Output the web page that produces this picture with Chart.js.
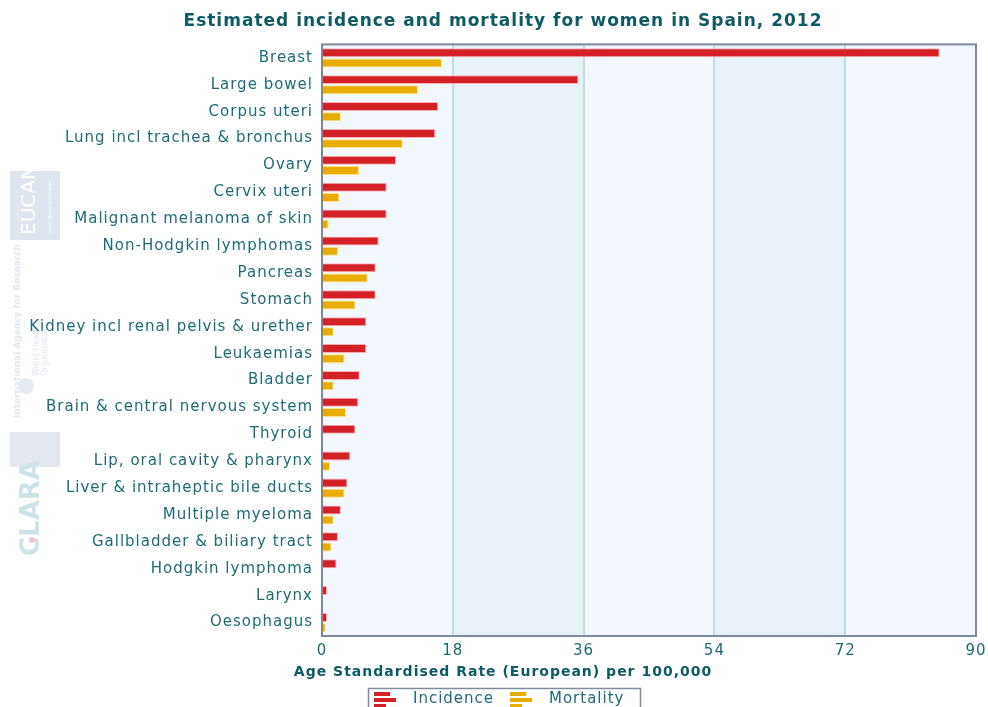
<!DOCTYPE html>
<html><head><meta charset="utf-8">
<script src="https://cdn.jsdelivr.net/npm/chart.js@4"></script>
<style>html,body{margin:0;padding:0;background:#fff}</style>
</head><body>
<canvas id="c" width="988" height="707"></canvas>
<script>
const categories = ["Breast","Large bowel","Corpus uteri","Lung incl trachea & bronchus","Ovary","Cervix uteri","Malignant melanoma of skin","Non-Hodgkin lymphomas","Pancreas","Stomach","Kidney incl renal pelvis & urether","Leukaemias","Bladder","Brain & central nervous system","Thyroid","Lip, oral cavity & pharynx","Liver & intraheptic bile ducts","Multiple myeloma","Gallbladder & biliary tract","Hodgkin lymphoma","Larynx","Oesophagus"];
const incidence = [85.0,35.3,16.0,15.6,10.2,8.9,8.9,7.8,7.4,7.4,6.1,6.1,5.2,5.0,4.6,3.9,3.5,2.6,2.2,2.0,0.7,0.7];
const mortality = [16.5,13.2,2.6,11.1,5.1,2.4,0.9,2.2,6.3,4.6,1.6,3.1,1.6,3.3,0,1.1,3.1,1.6,1.3,0,0,0.5];
const xTickValues = [0,18,36,54,72,90];
const titleText = "Estimated incidence and mortality for women in Spain, 2012";
const xTitleText = "Age Standardised Rate (European) per 100,000";
const legendLabels = ["Incidence","Mortality"];

const RED = '#d42027', YEL = '#e8ad00', TEAL = '#1d6c75', DTEAL = '#0f5a63';
const FONT = 'DejaVu Sans';

const spacingPlugin = {
  id: 'spacing',
  beforeUpdate(chart){ chart.ctx.letterSpacing = '1px'; },
  beforeDraw(chart){ chart.ctx.letterSpacing = '1px'; }
};

const bandsPlugin = {
  id: 'bands',
  beforeDraw(chart){
    const {ctx, chartArea:a, scales:{x}} = chart;
    ctx.save();
    ctx.fillStyle = '#f3f8fe';
    ctx.fillRect(a.left, a.top, a.right-a.left, a.bottom-a.top);
    ctx.fillStyle = '#e8f0f8';
    [[18,36],[54,72]].forEach(([s,e])=>{
      const x1 = x.getPixelForValue(s), x2 = x.getPixelForValue(e);
      ctx.fillRect(x1, a.top, x2-x1, a.bottom-a.top);
    });
    // watermark logos (faint)
    ctx.letterSpacing = '0px';
    ctx.fillStyle = '#dfe5ee';
    ctx.fillRect(10,171,50,69);
    ctx.save();
    ctx.translate(10,238); ctx.rotate(-Math.PI/2);
    ctx.fillStyle = '#ffffff'; ctx.font = '20px ' + FONT; ctx.textBaseline='middle';
    ctx.fillText('EUCAN', 3, 20);
    ctx.font = '4px ' + FONT; ctx.fillText('cancer observatory europe', 4, 40);
    ctx.restore();
    ctx.save();
    ctx.translate(18,418); ctx.rotate(-Math.PI/2);
    ctx.fillStyle = '#e2e9f1'; ctx.font = 'bold 9px ' + FONT; ctx.textBaseline='middle';
    ctx.fillText('International Agency for Research on Cancer', 0, 0);
    ctx.font = '8px ' + FONT;
    ctx.fillText('World Health', 42, 19);
    ctx.fillText('Organization', 42, 27);
    ctx.restore();
    ctx.fillStyle='#e6ebf1'; ctx.beginPath(); ctx.arc(26,386,8,0,Math.PI*2); ctx.fill();
    ctx.fillStyle = '#e3e8ef'; ctx.fillRect(10,432,50,35);
    ctx.save();
    ctx.translate(32,556); ctx.rotate(-Math.PI/2);
    ctx.fillStyle = '#cde3e8'; ctx.font = 'bold 26px ' + FONT; ctx.textBaseline='middle';
    ctx.fillText('CLARA', 0, 0);
    ctx.restore();
    ctx.fillStyle = '#f0c6cc'; ctx.beginPath(); ctx.arc(32,540,3,0,Math.PI*2); ctx.fill();
    ctx.restore();
  },
  afterDraw(chart){
    const {ctx, chartArea:a} = chart;
    ctx.save();
    ctx.strokeStyle = '#7a8a9a'; ctx.lineWidth = 2;
    ctx.strokeRect(a.left, a.top, a.right-a.left, a.bottom-a.top);
    // x axis title
    ctx.letterSpacing = '1px';
    ctx.fillStyle = DTEAL; ctx.font = 'bold 14px ' + FONT;
    ctx.textAlign = 'center'; ctx.textBaseline = 'middle';
    ctx.fillText(xTitleText, 503, 672);
    // legend
    ctx.strokeStyle = '#7f8d9a'; ctx.lineWidth = 1.5;
    ctx.strokeRect(368.5, 688.5, 272, 30);
    const drawIcon = (x, col) => {
      ctx.fillStyle = col;
      ctx.fillRect(x, 692, 16, 4);
      ctx.fillRect(x, 698, 22, 4);
      ctx.fillRect(x, 704, 12, 4);
    };
    drawIcon(374, RED); drawIcon(510, YEL);
    ctx.fillStyle = TEAL; ctx.font = '15px ' + FONT; ctx.textAlign='left';
    ctx.fillText(legendLabels[0], 413, 699);
    ctx.fillText(legendLabels[1], 549, 699);
    ctx.restore();
  }
};

new Chart(document.getElementById('c'), {
  type: 'bar',
  data: {
    labels: categories,
    datasets: [
      {label: legendLabels[0], data: incidence, backgroundColor: RED, borderColor: 'rgba(255,170,170,0.9)', borderWidth: 1, borderSkipped: 'start', categoryPercentage: 0.76, barPercentage: 0.88},
      {label: legendLabels[1], data: mortality, backgroundColor: YEL, borderColor: 'rgba(255,225,120,0.9)', borderWidth: 1, borderSkipped: 'start', categoryPercentage: 0.76, barPercentage: 0.88}
    ]
  },
  options: {
    indexAxis: 'y',
    responsive: false,
    animation: false,
    devicePixelRatio: 1,
    layout: {padding: {left: 30, right: 12, top: 1, bottom: 0}},
    plugins: {
      legend: {display: false},
      tooltip: {enabled: false},
      title: {display: true, text: titleText, color: DTEAL, font: {family: FONT, size: 17, weight: 'bold'}, padding: {top: 10, bottom: 13}}
    },
    scales: {
      y: {
        grid: {display: false, drawTicks: false},
        border: {display: false},
        ticks: {color: TEAL, font: {family: FONT, size: 15}, padding: 9, autoSkip: false},
        afterFit(s){ s.width = 292; }
      },
      x: {
        min: 0, max: 90,
        afterBuildTicks(s){ s.ticks = xTickValues.map(v => ({value: v})); },
        grid: {color: c => (c.tick && (c.tick.value === 0 || c.tick.value === 90)) ? 'rgba(0,0,0,0)' : '#bcdde6', lineWidth: 2, drawTicks: false},
        border: {display: false},
        ticks: {color: TEAL, font: {family: FONT, size: 15}, padding: 6, maxRotation: 0},
        afterFit(s){ s.height = 71; s.paddingLeft = 0; s.paddingRight = 0; }
      }
    }
  },
  plugins: [spacingPlugin, bandsPlugin]
});
</script>
</body></html>
